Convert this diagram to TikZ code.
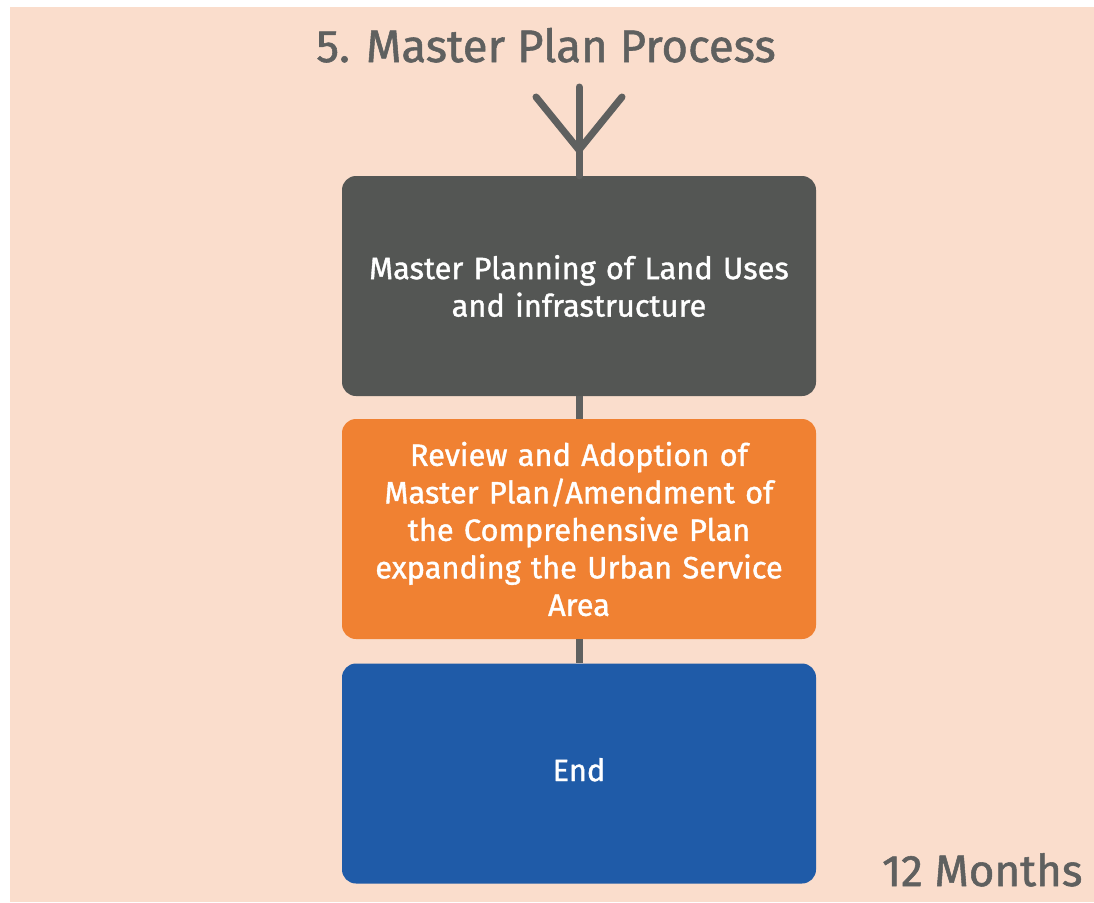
\documentclass[tikz,border=0pt]{standalone}
\usepackage{fontspec}
\setmainfont{Fira Sans}
\newfontfamily\medfont{Fira Sans}[FakeBold=1.2]
\definecolor{bgpeach}{HTML}{FADDCC}
\definecolor{darkbox}{HTML}{545654}
\definecolor{orangebox}{HTML}{F08132}
\definecolor{bluebox}{HTML}{1F5BA8}
\definecolor{linegray}{HTML}{5F605F}
\definecolor{titlegray}{HTML}{5F605F}
\tikzset{
  stagebox/.style={rounded corners=14pt, minimum width=474pt, minimum height=220pt,
    text width=440pt, align=center, text=white, inner sep=0pt,
    font=\medfont\fontsize{30.8}{37.5}\selectfont},
  conn/.style={draw=linegray, line width=7pt},
  bigtext/.style={font=\medfont\fontsize{45.5}{50}\selectfont, text=titlegray},
}
\begin{document}
\begin{tikzpicture}[x=1pt,y=-1pt]
\useasboundingbox (0,0) rectangle (1094,902);
\fill[white] (0,0) rectangle (1094,902);
\fill[bgpeach] (10,7) rectangle (1094,902);
\node[bigtext, anchor=base] (title) at (546,62) {5. Master Plan Process};
\node[stagebox, fill=darkbox] (b1) at (579,286) {\raisebox{7pt}{\parbox{440pt}{\centering Master Planning of Land Uses\\and infrastructure}}};
\node[stagebox, fill=orangebox] (b2) at (579,529) {Review and Adoption of\\Master Plan/Amendment of\\the Comprehensive Plan\\expanding the Urban Service\\Area};
\node[stagebox, fill=bluebox] (b3) at (579,773.5) {\raisebox{8pt}{End}};
\coordinate (top) at (579,87);
\coordinate (joint) at (579,150);
\coordinate (lt) at (536,97);
\coordinate (rt) at (622,97);
\draw[conn, line cap=round] (top) -- (b1.north);
\draw[conn, line cap=round, line join=round] (lt) -- (joint) -- (rt);
\draw[conn] (b1.south) -- (b2.north);
\draw[conn] (b2.south) -- (b3.north);
\node[bigtext, font=\medfont\fontsize{44}{50}\selectfont, anchor=base east] (months) at (1086,886) {12 Months};
\end{tikzpicture}
\end{document}
